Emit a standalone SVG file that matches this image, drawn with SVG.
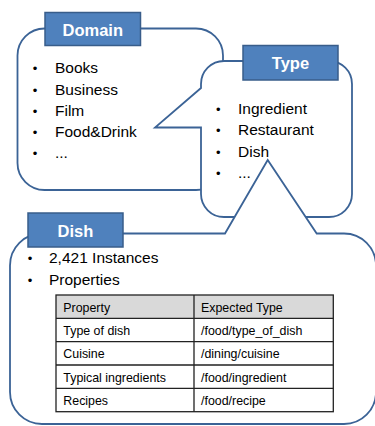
<svg xmlns="http://www.w3.org/2000/svg" width="375" height="426" viewBox="0 0 375 426">
<style>
.bubble{fill:#fff;stroke:#3b6396;stroke-width:1.8;stroke-linejoin:miter}
.label{fill:#4f81bd;stroke:#385d8a;stroke-width:1.5}
.lt{font-family:"Liberation Sans",Arial,sans-serif;font-weight:bold;font-size:16.5px;fill:#fff;text-anchor:middle}
.t{font-family:"Liberation Sans",Arial,sans-serif;font-size:15.5px;fill:#000}
.b{font-family:"Liberation Sans",Arial,sans-serif;font-size:13px;fill:#000;text-anchor:middle}
.tt{font-family:"Liberation Sans",Arial,sans-serif;font-size:12.4px;fill:#000}
.grid{stroke:#222;stroke-width:1.3;fill:none}
</style>
<rect width="375" height="426" fill="#fff"/>
<g id="domain">
<path class="bubble" d="M44.5 28.5H196A27 27 0 0 1 223 55.5V163A27 27 0 0 1 196 190H44.5A27 27 0 0 1 17.5 163V55.5A27 27 0 0 1 44.5 28.5Z"/>
<rect class="label" x="45" y="12.5" width="95.5" height="33"/>
<text class="lt" x="92.8" y="35.5">Domain</text>
<g class="b"><text x="35" y="73.3">•</text><text x="35" y="94.5">•</text><text x="35" y="115.7">•</text><text x="35" y="136.9">•</text><text x="35" y="158.1">•</text></g>
<text class="t" x="55" y="73.3">Books</text>
<text class="t" x="55" y="94.5">Business</text>
<text class="t" x="55" y="115.7">Film</text>
<text class="t" x="55" y="136.9">Food&amp;Drink</text>
<text class="t" x="55" y="158.1">...</text>
</g>
<g id="type">
<path class="bubble" d="M224 61H329A23 23 0 0 1 352 84V194A23 23 0 0 1 329 217H224A23 23 0 0 1 201 194V127.5L155 127.5L201 88V84A23 23 0 0 1 224 61Z"/>
<rect class="label" x="243" y="45.5" width="95" height="34.5"/>
<text class="lt" x="290.5" y="69">Type</text>
<g class="b"><text x="218.3" y="113.8">•</text><text x="218.3" y="135.2">•</text><text x="218.3" y="156.6">•</text><text x="218.3" y="178">•</text></g>
<text class="t" x="238" y="113.8">Ingredient</text>
<text class="t" x="238" y="135.2">Restaurant</text>
<text class="t" x="238" y="156.6">Dish</text>
<text class="t" x="238" y="178">...</text>
</g>
<g id="dish">
<path class="bubble" d="M42 233.5H225L267.7 160L316.7 233.5H344A32 32 0 0 1 376 265.5V392A32 32 0 0 1 344 424H42A32 32 0 0 1 10 392V265.5A32 32 0 0 1 42 233.5Z"/>
<rect class="label" x="28" y="213" width="95" height="34"/>
<text class="lt" x="75.5" y="236.5">Dish</text>
<g class="b"><text x="30" y="263.3">•</text><text x="30" y="285">•</text></g>
<text class="t" x="49" y="263.3">2,421 Instances</text>
<text class="t" x="49" y="285">Properties</text>
</g>
<g id="table">
<rect x="56" y="295" width="277.3" height="23.3" fill="#d9d9d9"/>
<rect class="grid" x="56" y="295" width="277.3" height="116.7"/>
<path class="grid" d="M56 318.3H333.3M56 341.7H333.3M56 365H333.3M56 388.3H333.3M194 295V411.7"/>
<text class="tt" x="63.3" y="311.5">Property</text>
<text class="tt" x="201" y="311.5">Expected Type</text>
<text class="tt" x="63.3" y="335">Type of dish</text>
<text class="tt" x="201" y="335">/food/type_of_dish</text>
<text class="tt" x="63.3" y="358.3">Cuisine</text>
<text class="tt" x="201" y="358.3">/dining/cuisine</text>
<text class="tt" x="63.3" y="381.7">Typical ingredients</text>
<text class="tt" x="201" y="381.7">/food/ingredient</text>
<text class="tt" x="63.3" y="405">Recipes</text>
<text class="tt" x="201" y="405">/food/recipe</text>
</g>
</svg>
